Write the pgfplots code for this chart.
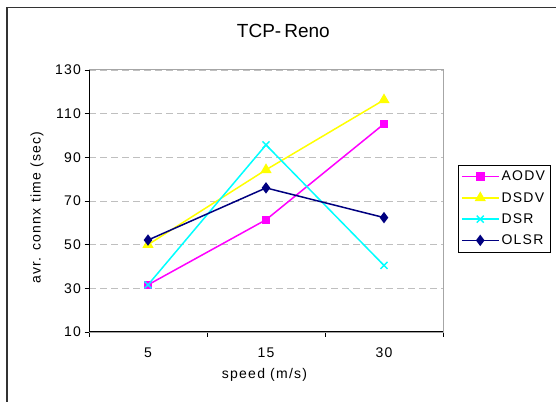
\documentclass[border=0pt]{standalone}
\usepackage{fontspec}
\setmainfont{Liberation Sans}[LetterSpace=9]
\usepackage{pgfplots}
\pgfplotsset{compat=1.18}
\definecolor{navyc}{RGB}{0,0,128}
\definecolor{magc}{RGB}{255,0,255}
\definecolor{yelc}{RGB}{255,255,0}
\definecolor{cyac}{RGB}{0,255,255}
\begin{document}
\begin{tikzpicture}
\useasboundingbox (0,0) rectangle (556bp,402bp);
\fill[white] (0,0) rectangle (556bp,402bp);
\draw[line width=1.5bp, color=black!80] (7bp,-3bp) -- (7bp,394.5bp) -- (560bp,394.5bp);
\begin{axis}[
  at={(89bp,70bp)}, anchor=south west,
  scale only axis, width=354bp, height=262bp,
  xmin=-0.5, xmax=2.5, ymin=10, ymax=130,
  ytick={10,30,...,130},
  xtick={-0.5,0.5,1.5,2.5}, xticklabels={},
  extra x ticks={0,1,2}, extra x tick labels={5,15,30},
  extra x tick style={major tick length=0pt, xticklabel style={yshift=-12bp}},
  tick align=outside, major tick length=4.5bp,
  xtick pos=bottom, ytick pos=left,
  tick style={black, line width=0.8bp},
  ymajorgrids, grid style={gray!50, line width=0.8bp, dash pattern=on 7bp off 4bp},
  axis line style={gray!70, line width=1bp},
  /pgf/number format/assume math mode=true,
  tick label style={font=\fontsize{14bp}{16bp}\selectfont},
  title={\addfontfeature{LetterSpace=0}TCP-\hspace{3bp}Reno},
  title style={at={(axis description cs:0.549,1.128)}, anchor=center, font=\fontsize{19bp}{22bp}\selectfont},
  xlabel={speed (m/s)},
  xlabel style={at={(axis description cs:0.4958,-0.163)}, anchor=center, font=\fontsize{14bp}{16bp}\selectfont},
  ylabel={avr. connx time (sec)},
  ylabel style={at={(axis description cs:-0.147,0.475)}, anchor=center, font=\fontsize{14bp}{16bp}\selectfont},
  legend style={at={(1.1723,0.4714)}, anchor=center, draw=black, line width=0.8bp,
    font=\fontsize{14bp}{16bp}\selectfont, row sep=6bp, inner xsep=3bp, inner ysep=4bp},
  legend cell align=left,
  legend image code/.code={\draw[mark repeat=2,mark phase=2] plot coordinates {(0bp,0bp)(18.5bp,0bp)(37bp,0bp)};},
]
\addplot[magc, line width=1.5bp, mark=square*, mark size=3.5bp] coordinates {(0,31.6) (1,61.4) (2,105.3)};
\addlegendentry{AODV}
\addplot[yelc, line width=1.5bp, mark=triangle*, mark size=5bp] coordinates {(0,50) (1,84.3) (2,116.3)};
\addlegendentry{DSDV}
\addplot[cyac, line width=1.5bp, mark=x, mark size=5bp, mark options={line width=1.3bp}] coordinates {(0,31.6) (1,95.7) (2,40.5)};
\addlegendentry{DSR}
\addplot[navyc, line width=1.5bp, mark=diamond*, mark size=4.5bp] coordinates {(0,52.1) (1,76) (2,62.4)};
\addlegendentry{OLSR}
\draw[black, line width=1.2bp] (rel axis cs:0,1) -- (rel axis cs:0,0) -- (rel axis cs:1,0);
\end{axis}
\end{tikzpicture}
\end{document}
